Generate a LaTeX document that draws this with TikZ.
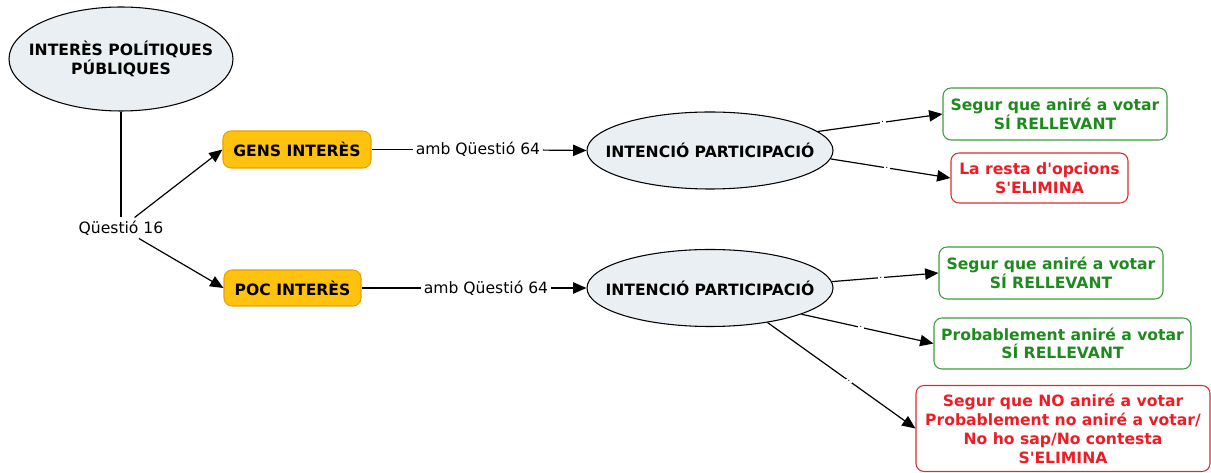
\documentclass[tikz,border=0pt]{standalone}
\usepackage{fontspec}
\setmainfont{DejaVu Sans}[Ligatures=TeXOff]
\usetikzlibrary{arrows.meta,shapes.geometric}

\begin{document}
\begin{tikzpicture}[x=0.75pt,y=-0.75pt,line width=0.9pt,
  every node/.style={font=\fontsize{11.7}{14}\selectfont},
  concept/.style={ellipse,draw,line width=0.8pt,fill=topic,inner xsep=-30pt,inner ysep=0pt,
    font=\fontsize{11.7}{14}\selectfont\bfseries,align=center},
  level/.style={rounded corners=6pt,draw=levelline,fill=level,line width=0.8pt,
    inner sep=0pt,font=\fontsize{11.7}{14}\selectfont\bfseries},
  keep/.style={rounded corners=6pt,draw=keepline,line width=0.8pt,text=keep,
    inner sep=0pt,align=center,font=\fontsize{11.7}{14}\selectfont\bfseries},
  drop/.style={rounded corners=6pt,draw=dropline,line width=0.8pt,text=drop,
    inner sep=0pt,align=center,font=\fontsize{11.7}{14.3}\selectfont\bfseries},
  linklab/.style={fill=white,inner sep=1.5pt},
  dotlab/.style={fill=white,inner sep=1.2pt,font=\fontsize{7}{7}\selectfont},
  arr/.style={-{Triangle[length=10pt,width=8.5pt]}}]
  \definecolor{topic}{HTML}{E9EFF3}
  \definecolor{level}{HTML}{FFC20E}
  \definecolor{levelline}{HTML}{E9A100}
  \definecolor{keep}{HTML}{1E8A1E}
  \definecolor{keepline}{HTML}{3C9B3C}
  \definecolor{drop}{HTML}{EE1C25}
  \definecolor{dropline}{HTML}{DD2C2C}
  \useasboundingbox (0,0) rectangle (1211,473);
  % starting concept and question
  \node[concept,minimum width=168pt,minimum height=78pt] (interes) at (121,59)
    {INTERÈS POLÍTIQUES\\PÚBLIQUES};
  \node[inner sep=2pt] (q16) at (121,228) {Qüestió 16};
  % interest levels
  \node[level,minimum width=111pt,minimum height=27.75pt] (gens) at (297,149.5) {GENS INTERÈS};
  \node[level,minimum width=102.75pt,minimum height=27pt] (poc) at (292.5,288) {POC INTERÈS};
  \node[linklab] (q64a) at (478,149.5) {amb Qüestió 64};
  \node[linklab] (q64b) at (486,288) {amb Qüestió 64};
  % participation
  \node[concept,minimum width=184.5pt,minimum height=57.75pt] (part1) at (710,150.5)
    {INTENCIÓ PARTICIPACIÓ};
  \node[concept,minimum width=184.5pt,minimum height=57.75pt] (part2) at (710,288)
    {INTENCIÓ PARTICIPACIÓ};
  % answers
  \node[keep,minimum width=168pt,minimum height=39pt] (segur1) at (1055,114)
    {Segur que aniré a votar\\SÍ RELLEVANT};
  \node[drop,minimum width=132.75pt,minimum height=37.5pt] (resta) at (1039.5,178)
    {La resta d'opcions\\S'ELIMINA};
  \node[keep,minimum width=168pt,minimum height=39pt] (segur2) at (1051,273)
    {Segur que aniré a votar\\SÍ RELLEVANT};
  \node[keep,minimum width=192.75pt,minimum height=38.25pt] (prob) at (1062.5,343.5)
    {Probablement aniré a votar\\SÍ RELLEVANT};
  \node[drop,minimum width=220.5pt,minimum height=64.5pt] (no) at (1063,428.5)
    {Segur que NO aniré a votar\\Probablement no aniré a votar/\\No ho sap/No contesta\\S'ELIMINA};
  % links
  \draw (interes.south) -- (q16.north);
  \draw[arr] (q16) -- (gens.west);
  \draw[arr] (q16) -- (poc.west);
  \draw (gens) -- (q64a);
  \draw[arr] (q64a) -- (part1.west);
  \draw (poc) -- (q64b);
  \draw[arr] (q64b) -- (part2.west);
  \draw[arr] (part1.10) -- node[dotlab,pos=0.52] {.} (segur1.west);
  \draw[arr] (part1.-4) -- node[dotlab,pos=0.47] {.} (resta.west);
  \draw[arr] (part2.3) -- node[dotlab,pos=0.46] {.} (segur2.west);
  \draw[arr] (part2.-16) -- node[dotlab,pos=0.45] {.} (prob.west);
  \draw[arr] (part2.-31) -- node[dotlab,pos=0.55] {.} (no.west);
\end{tikzpicture}
\end{document}
